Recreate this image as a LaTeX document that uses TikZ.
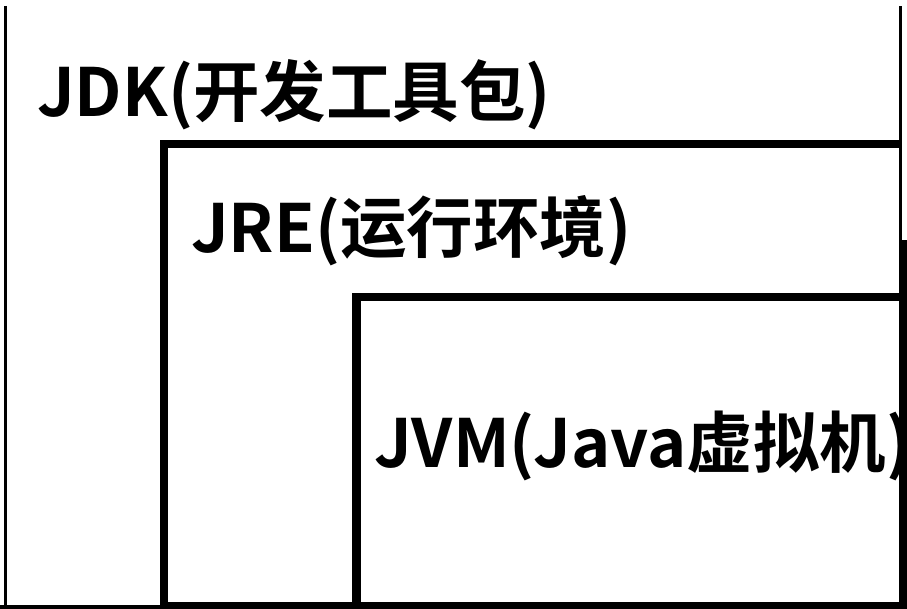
\documentclass[tikz,border=0pt]{standalone}
\usepackage{fontspec}
\newfontfamily\cjk{Noto Sans CJK SC Bold}
\tikzset{
  boxline/.style={draw=black, line width=8.5bp, line join=miter, line cap=butt},
  thinline/.style={draw=black, line width=3bp},
  lbl/.style={anchor=base west, inner sep=0pt, font=\cjk\fontsize{66.5bp}{70bp}\selectfont, text=black}
}
\begin{document}
\begin{tikzpicture}[x=1bp,y=-1bp]
\useasboundingbox (0,0) rectangle (907,609);
\fill[white] (0,0) rectangle (907,609);
\begin{scope}
\clip (0,0) rectangle (907,609);
% outer JDK box
\draw[thinline] (5,6) -- (5,609);
% JRE box
\draw[boxline] (164,612) -- (164,144) -- (902,144);
% JVM box
\draw[boxline] (356.5,612) -- (356.5,297) -- (910,297);
% labels
\node[lbl] (jdk) at (37,117) {JDK(开发工具包)};
\node[lbl] (jre) at (191,253) {JRE(运行环境)};
\node[lbl] (jvm) at (374,467) {JVM(Java虚拟机)};
% right border
\fill[black] (899,6) rectangle (902,609);
\fill[black] (900,240) rectangle (907,609);
% bottom border
\fill[black] (0,604.5) rectangle (907,609);
\fill[black] (160,602) rectangle (907,609);
\end{scope}
\end{tikzpicture}
\end{document}
